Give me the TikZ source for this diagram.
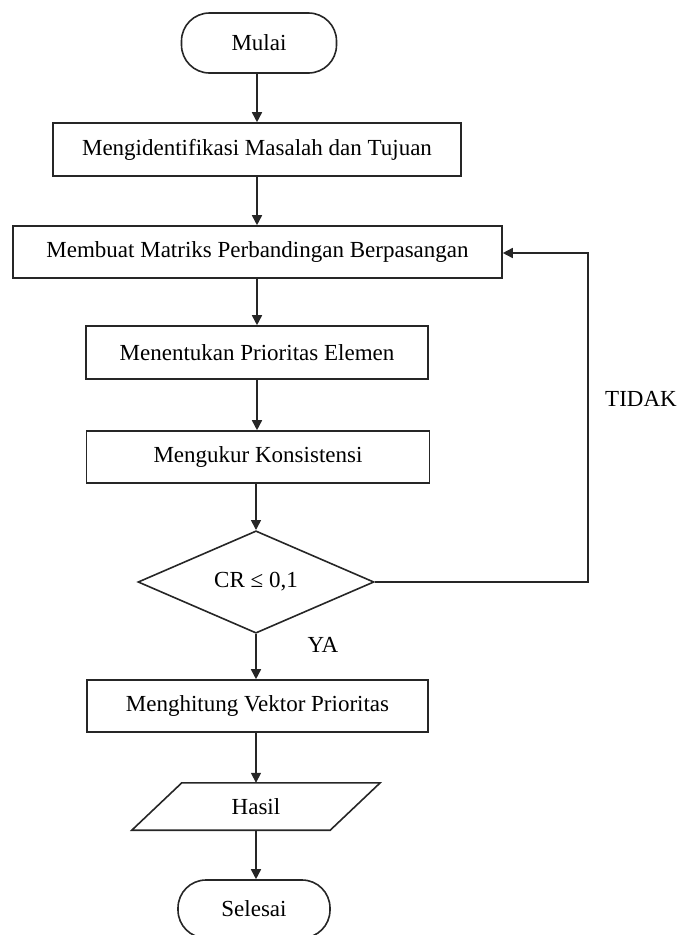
\documentclass[tikz,border=0pt]{standalone}
\usepackage{fontspec}
\setmainfont{Liberation Serif}
\usetikzlibrary{shapes.geometric,arrows.meta,calc}

\tikzset{
  flowline/.style={line width=1.6pt, draw=black!85},
  arrowline/.style={flowline, -{Triangle[length=10pt,width=10pt]}},
  procbox/.style={draw=black!85, line width=1.6pt, rectangle, inner sep=0pt, fill=white},
  terminal/.style={draw=black!85, line width=1.6pt, rectangle, rounded corners=28pt, inner sep=0pt},
  decision/.style={draw=black!85, line width=1.6pt, diamond, inner sep=0pt},
  label/.style={inner sep=0pt}
}

\begin{document}
\begin{tikzpicture}[x=1pt, y=-1pt, font=\fontsize{23}{27}\selectfont]
  \useasboundingbox (0,0) rectangle (677,935);

  % start / end terminals
  \node[terminal, minimum width=155pt, minimum height=60pt] (mulai) at (259,43) {Mulai};
  \node[terminal, minimum width=152pt, minimum height=58pt] (selesai) at (254,909) {Selesai};

  % process steps
  \node[procbox, minimum width=408pt, minimum height=53pt] (ident) at (257,149.5) {Mengidentifikasi Masalah dan Tujuan};
  \node[procbox, minimum width=489pt, minimum height=52pt] (matriks) at (257.5,252) {Membuat Matriks Perbandingan Berpasangan};
  \node[procbox, minimum width=342pt, minimum height=53pt] (prior) at (257,352.5) {Menentukan Prioritas Elemen};
  \node[procbox, minimum width=343pt, minimum height=52pt] (konsist) at (258,457) {Mengukur Konsistensi};

  % consistency check
  \node[decision, minimum width=236pt, minimum height=97pt] (cek) at (256,582) {CR ≤ 0,1};

  \node[procbox, minimum width=341pt, minimum height=52pt] (vektor) at (257.5,706) {Menghitung Vektor Prioritas};

  % output (parallelogram)
  \node[label, minimum width=248pt, minimum height=47pt] (hasil) at (256,806.5) {Hasil};
  \draw[flowline] ($(hasil.north west)+(50,0)$) -- (hasil.north east)
    -- ($(hasil.south east)-(50,0)$) -- (hasil.south west) -- cycle;

  % branch labels
  \node[label] (ya) at (323,645) {YA};
  \node[label] (tidak) at (641,399) {TIDAK};

  % main flow
  \draw[arrowline] (mulai.south -| ident.north) -- (ident.north);
  \draw[arrowline] (ident.south) -- (ident.south |- matriks.north);
  \draw[arrowline] (matriks.south -| prior.north) -- (prior.north);
  \draw[arrowline] (prior.south) -- (prior.south |- konsist.north);
  \draw[arrowline] (konsist.south -| cek.north) -- (cek.north);
  \draw[arrowline] (cek.south) -- (cek.south |- vektor.north);
  \draw[arrowline] (vektor.south -| hasil.north) -- (hasil.north);
  \draw[arrowline] (hasil.south) -- (hasil.south |- selesai.north);

  % loop back when CR exceeds the limit
  \coordinate (corner) at (588,253);
  \draw[arrowline] (cek.east) -| (corner) -- (matriks.east |- corner);
\end{tikzpicture}
\end{document}
